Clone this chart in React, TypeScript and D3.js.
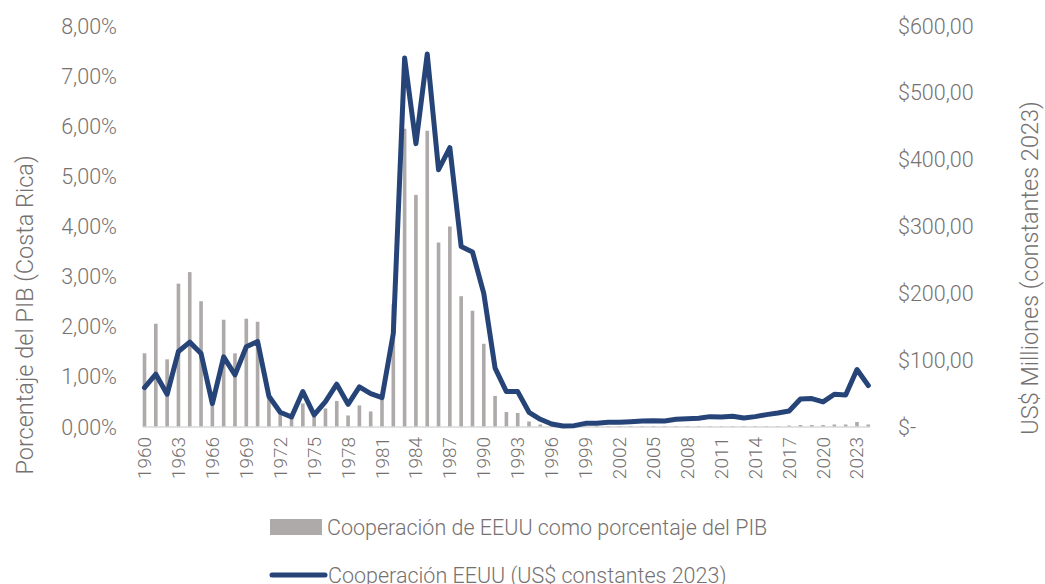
import React from 'react'
import * as d3 from 'd3'

// years on the x axis
const years = d3.range(1960, 2025)

// cooperation as % of GDP (bars, left axis)
const pctGdp = [
  1.47, 2.06, 1.35, 2.86, 3.09, 2.51, 0.42, 2.14, 1.47, 2.16,
  2.10, 0.62, 0.28, 0.20, 0.47, 0.20, 0.37, 0.52, 0.23, 0.43,
  0.31, 0.55, 2.45, 5.95, 4.63, 5.91, 3.68, 4.00, 2.61, 2.32,
  1.66, 0.62, 0.30, 0.28, 0.11, 0.05, 0.02, 0.02, 0.02, 0.02,
  0.02, 0.02, 0.02, 0.02, 0.02, 0.02, 0.02, 0.02, 0.02, 0.02,
  0.02, 0.02, 0.02, 0.02, 0.02, 0.02, 0.02, 0.03, 0.04, 0.04,
  0.04, 0.05, 0.05, 0.10, 0.05,
]

// cooperation in constant 2023 US$ millions (line, right axis)
const usdMillions = [
  59, 79, 49, 113, 127, 110, 35, 105, 78, 120,
  128, 46, 22, 15, 53, 18, 38, 64, 34, 60,
  50, 44, 140, 552, 424, 558, 385, 418, 270, 262,
  200, 88, 53, 53, 22, 11.5, 4.5, 1.5, 2, 5.5,
  5.5, 7, 7, 8, 9, 9.5, 9, 11.5, 12.5, 13,
  15.5, 15, 16, 13.5, 15.5, 18.5, 21, 24, 42, 42.5,
  37.5, 49, 48, 86, 62,
]

const leftTicks = [0, 1, 2, 3, 4, 5, 6, 7, 8]
const rightTicks = [0, 100, 200, 300, 400, 500, 600]

const barLabel = 'Cooperación de EEUU como porcentaje del PIB'
const lineLabel = 'Cooperación EEUU (US$ constantes 2023)'
const leftTitle = 'Porcentaje del PIB (Costa Rica)'
const rightTitle = 'US$ Milliones (constantes 2023)'

const WIDTH = 1045
const HEIGHT = 584
const TEXT = '#767171'
const BAR = '#aeaaaa'
const LINE = '#264478'
const FONT = 'Roboto, "Noto Sans", sans-serif'

const locale = d3.formatLocale({decimal: ',', thousands: '.', grouping: [3], currency: ['$', '']})
const fmtPct = locale.format(',.2f')
const fmtUsd = locale.format('$,.2f')

export default function App() {
  const x = d3.scaleBand<number>().domain(years).range([142.7, 870.1]).paddingInner(0.68)
  const yL = d3.scaleLinear().domain([0, 8]).range([427, 26])
  const yR = d3.scaleLinear().domain([0, 600]).range([427, 26])
  const cx = (yr: number) => (x(yr) as number) + x.bandwidth() / 2

  const line = d3.line<number>()
    .x((_, i) => cx(years[i]))
    .y(d => yR(d))

  return <svg width={WIDTH} height={HEIGHT}
    style={{position: 'absolute', left: 0, top: 0, background: '#fff'}}
    fontFamily={FONT} fontWeight={300}>

    {years.map((yr, i) => <rect key={yr}
      x={x(yr)} width={x.bandwidth()}
      y={yL(pctGdp[i])} height={yL(0) - yL(pctGdp[i])}
      fill={BAR} />)}

    <line x1={142.7} x2={870.1} y1={yL(0)} y2={yL(0)} stroke="#d9d9d9" strokeWidth={1.5} />

    <path d={line(usdMillions) ?? ''} fill="none" stroke={LINE} strokeWidth={5}
      strokeLinejoin="round" strokeLinecap="round" />

    {leftTicks.map(t => <text key={t} x={117} y={yL(t)} fill={TEXT} fontSize={21.5}
      textAnchor="end" dominantBaseline="central">{fmtPct(t)}%</text>)}

    {rightTicks.map(t => <text key={t} x={898} y={yR(t)} fill={TEXT} fontSize={21.5}
      dominantBaseline="central">{t === 0 ? '$-' : fmtUsd(t)}</text>)}

    {years.filter((yr, i) => i % 3 === 0).map(yr => <text key={yr}
      transform={`translate(${cx(yr)},437) rotate(-90)`} fill={TEXT} fontSize={19}
      textAnchor="end" dominantBaseline="central">{yr}</text>)}

    <text transform="translate(25,315) rotate(-90)" fill={TEXT} fontSize={23.5}
      textAnchor="middle" dominantBaseline="central">{leftTitle}</text>
    <text transform="translate(1030,268) rotate(-90)" fill={TEXT} fontSize={23.5}
      textAnchor="middle" dominantBaseline="central">{rightTitle}</text>

    <rect x={270} y={519} width={52} height={16} fill={BAR} />
    <text x={327} y={527} fill={TEXT} fontSize={21.5} dominantBaseline="central">{barLabel}</text>

    <line x1={272} x2={325} y1={575} y2={575} stroke={LINE} strokeWidth={5} strokeLinecap="round" />
    <text x={328} y={575} fill={TEXT} fontSize={21.5} dominantBaseline="central">{lineLabel}</text>
  </svg>
}
